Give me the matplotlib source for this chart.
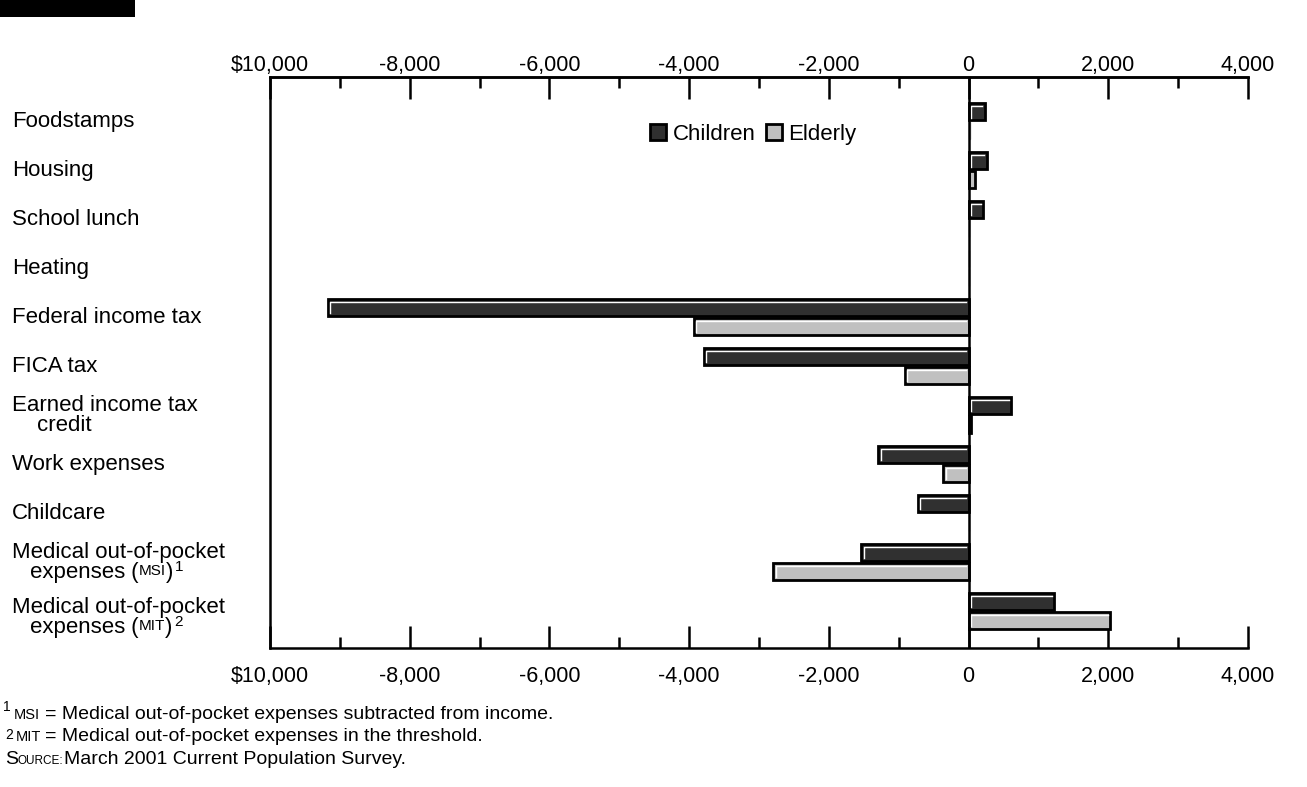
import matplotlib
matplotlib.use("Agg")
import matplotlib.pyplot as plt
from matplotlib import transforms
from matplotlib.patches import Rectangle, Patch
from matplotlib.lines import Line2D
from matplotlib.ticker import MultipleLocator, FuncFormatter
import numpy as np

plt.rcParams['font.family'] = ['Liberation Sans', 'DejaVu Sans']

W, H = 1307, 787

# data (dollars)
categories = ["Foodstamps", "Housing", "School lunch", "Heating",
              "Federal income tax", "FICA tax", "Earned income tax|credit",
              "Work expenses", "Childcare",
              "Medical out-of-pocket|expenses", "Medical out-of-pocket|expenses"]
children = [230, 265, 210, 10, -9175, -3790, 610, -1290, -730, -1535, 1230]
elderly = [15, 85, 10, 10, -3935, -915, 40, -360, 0, -2800, 2030]
series_names = ["Children", "Elderly"]
xticks = [-10000, -8000, -6000, -4000, -2000, 0, 2000, 4000]


def px(x, y):
    return x / W, 1 - y / H


def fmt(v, pos):
    return "$10,000" if v == -10000 else f"{v:,.0f}"


fig = plt.figure(figsize=(W / 100, H / 100), dpi=100)
ax = fig.add_axes([270 / W, 1 - 648 / H, (1248 - 270) / W, (648 - 77) / H])

y = np.arange(len(categories))
dark, light = '#303030', '#c0c0c0'
hgt = 0.34
off = 0.19


def lw_for(vals):
    return [2.0 if abs(v) > 20 else 1.0 for v in vals]


def ec_for(vals):
    return ['black' if abs(v) > 20 else '#999999' for v in vals]


b1 = ax.barh(y - off, children, height=hgt, color=dark,
             edgecolor=ec_for(children), linewidth=lw_for(children), zorder=3)
b2 = ax.barh(y + off, elderly, height=hgt, color=light,
             edgecolor=ec_for(elderly), linewidth=lw_for(elderly), zorder=3)

ax.set_xlim(-10000, 4000)
ax.set_ylim(10.755, -0.9)

# white inner highlight on top/left edge of each bar (3D look)
for bars in (b1, b2):
    for p in bars.patches:
        (x0, y0), (x1, y1) = ax.transData.transform(
            [(p.get_x(), p.get_y()), (p.get_x() + p.get_width(), p.get_y() + p.get_height())])
        xl, xr = min(x0, x1), max(x0, x1)
        yb, yt = min(y0, y1), max(y0, y1)
        if xr - xl < 7:
            continue
        i = 2.6
        ax.add_line(Line2D([xl + i, xl + i, xr - i], [yb + i, yt - i, yt - i],
                           transform=None, color='white', lw=1.0, zorder=4))

ax.axvline(0, color='black', lw=1.8, zorder=5)

for s in ['top', 'bottom', 'left']:
    ax.spines[s].set_linewidth(1.8)
ax.spines['right'].set_visible(False)

ax.set_xticks(xticks)
ax.xaxis.set_minor_locator(MultipleLocator(1000))
ax.xaxis.set_major_formatter(FuncFormatter(fmt))
ax.tick_params(axis='x', which='major', top=True, bottom=True, labeltop=False,
               labelbottom=True, direction='in', length=16, width=1.8,
               labelsize=15.5, pad=13)
ax.tick_params(axis='x', which='minor', top=True, bottom=True,
               direction='in', length=8, width=1.8)
ax.set_yticks([])

# top tick labels on their own axis so they can sit closer to the line
sec = ax.secondary_xaxis('top')
sec.set_xticks(xticks)
sec.xaxis.set_major_formatter(FuncFormatter(fmt))
sec.tick_params(axis='x', length=0, labelsize=15.5, pad=0.5)
sec.spines['top'].set_linewidth(1.8)

# category labels, one text per line
trans = transforms.blended_transform_factory(fig.transFigure, ax.transData)
for k, lab in enumerate(categories):
    lines = lab.split("|")
    if len(lines) == 1:
        fig.text(12 / W, k, lab, transform=trans, ha='left', va='center', fontsize=16)
        continue
    gap = 10
    sh = 0 if k != 10 else -6
    fig.text(12 / W, k, lines[0], ha='left', va='center', fontsize=16,
             transform=trans + transforms.ScaledTranslation(0, (gap + sh) / 100, fig.dpi_scale_trans))
    indent = 37 if k == 6 else 30
    t2 = fig.text(indent / W, k, lines[1], ha='left', va='center', fontsize=16,
                  transform=trans + transforms.ScaledTranslation(0, (-gap + sh) / 100, fig.dpi_scale_trans))
    if k >= 9:
        tag = "MSI" if k == 9 else "MIT"
        sup = "1" if k == 9 else "2"
        a = ax.annotate(" (", xy=(1, 0), xycoords=t2, xytext=(0, 0),
                        textcoords='offset points', fontsize=16, va='bottom')
        b = ax.annotate(tag, xy=(1, 0), xycoords=a, xytext=(0, 3),
                        textcoords='offset points', fontsize=11, va='bottom')
        c = ax.annotate(")", xy=(1, 0), xycoords=b, xytext=(0, -3),
                        textcoords='offset points', fontsize=16, va='bottom')
        ax.annotate(sup, xy=(1, 1), xycoords=c, xytext=(1, 1),
                    textcoords='offset points', fontsize=11, va='top')

# legend
handles = [Patch(facecolor=dark, edgecolor='black', linewidth=2),
           Patch(facecolor=light, edgecolor='black', linewidth=2)]
fig.legend(handles, series_names, loc='upper left', bbox_to_anchor=px(650, 124),
           ncol=2, frameon=False, fontsize=16, handlelength=0.72, handleheight=0.72,
           handletextpad=0.3, columnspacing=0.45, borderpad=0, borderaxespad=0)

# title fragment
fig.patches.append(Rectangle(px(0, 17), 135 / W, 17 / H, transform=fig.transFigure,
                             facecolor='black', edgecolor='none'))

# footnotes
fs = 14
fig.text(*px(3, 711), "1", fontsize=10, va='baseline')
fig.text(*px(14, 719), "MSI", fontsize=10.5, va='baseline')
fig.text(*px(45, 719), "= Medical out-of-pocket expenses subtracted from income.",
         fontsize=fs, va='baseline')
fig.text(*px(5, 739), "2", fontsize=10, va='baseline')
fig.text(*px(16, 741), "MIT", fontsize=10.5, va='baseline')
fig.text(*px(45, 741), "= Medical out-of-pocket expenses in the threshold.",
         fontsize=fs, va='baseline')
fig.text(*px(5, 764), "S", fontsize=fs, va='baseline')
fig.text(*px(17, 764), "OURCE:", fontsize=8.5, va='baseline')
fig.text(*px(64, 764), "March 2001 Current Population Survey.", fontsize=fs, va='baseline')

fig.savefig("out.png", dpi=100)
